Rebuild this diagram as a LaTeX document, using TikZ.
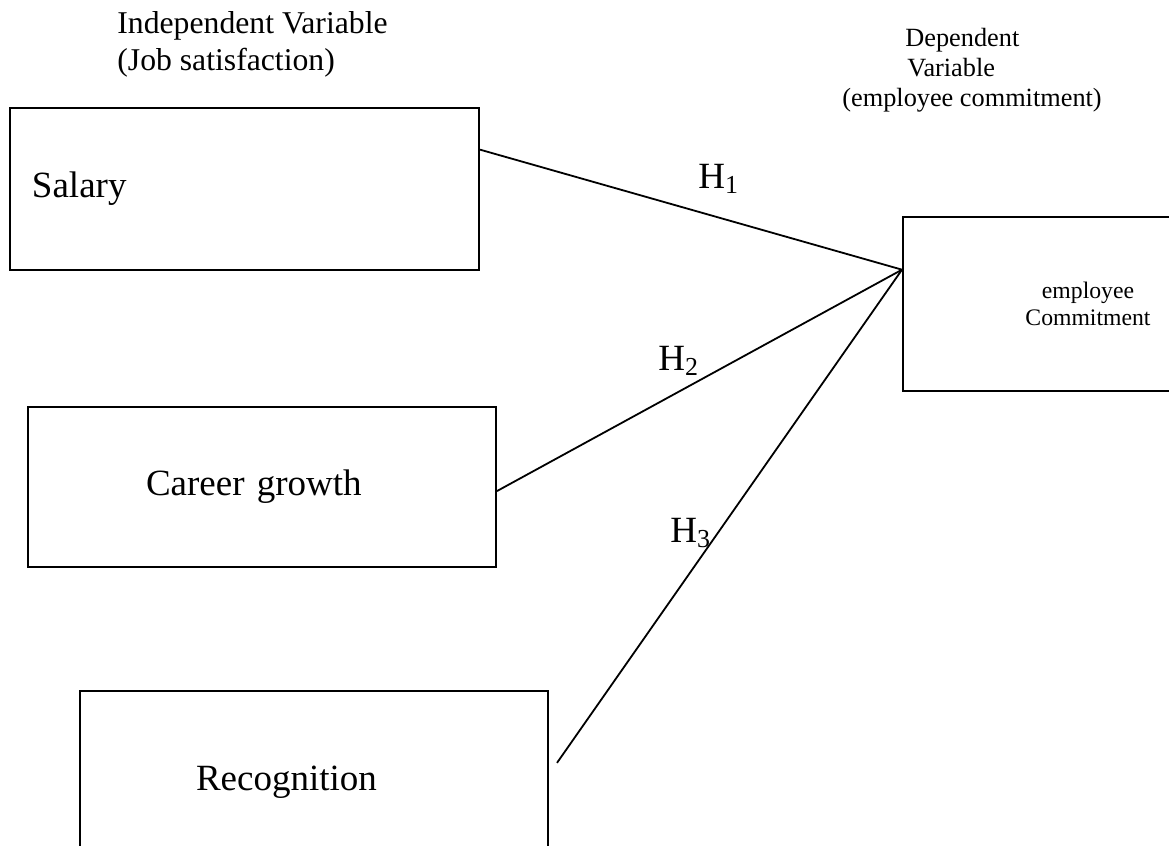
\documentclass[tikz,border=0pt]{standalone}
\usepackage{fontspec}
\setmainfont{Liberation Serif}
\usetikzlibrary{calc}
\tikzset{
  vbox/.style={draw, line width=1pt, inner ysep=0pt, align=left, font={\fontsize{18.5}{22}\selectfont}},
  link/.style={line width=0.9pt},
  hlabel/.style={anchor=base west, inner sep=0pt, font={\fontsize{18.5}{22}\selectfont}},
}
\begin{document}
\begin{tikzpicture}[x=0.5pt,y=-0.5pt]
\useasboundingbox (0,0) rectangle (1169,846);
\clip (0,0) rectangle (1169,846);
% boxes
\node[vbox, minimum width=234.5pt, minimum height=81pt, inner xsep=11pt, text width=212.5pt] (sal) at (244.5,189) {Salary};
\node[vbox, minimum width=234pt, minimum height=80pt, inner xsep=59pt, text width=116pt] (car) at (262,487) {Career growth};
\node[vbox, minimum width=234pt, minimum height=91pt, inner xsep=58pt, text width=118pt] (rec) at (314,782) {Recognition};
\node[draw, line width=1pt, minimum width=185pt, minimum height=87pt, align=center, font={\fontsize{11.85}{13.5}\selectfont}] (dep) at (1088,304) {employee\\Commitment};
% headings (anchor base = baseline of last line)
\node[anchor=base west, inner sep=0pt, align=left, font={\fontsize{15.85}{18.5}\selectfont}] (ivar) at (117,70) {Independent Variable\\(Job satisfaction)};
\node[anchor=base west, inner sep=0pt, align=left, font={\fontsize{13.15}{15}\selectfont}] (dvar) at (842,106) {\hspace*{31.5pt}Dependent\\\hspace*{32.5pt}Variable\\(employee commitment)};
% connectors
\coordinate (hub) at ($(dep.north west)!0.305!(dep.south west)$);
\draw[link] ($(sal.north east)!0.26!(sal.south east)$) -- (hub);
\draw[link] ($(car.north east)!0.525!(car.south east)$) -- (hub);
\coordinate (recend) at ($(rec.north east)!0.396!(rec.south east)+(8,0)$);
\draw[link] (recend) -- (hub);
% hypothesis labels
\node[hlabel] (h1) at (698,188) {H\textsubscript{1}};
\node[hlabel] (h2) at (658,370) {H\textsubscript{2}};
\node[hlabel] (h3) at (670,542) {H\textsubscript{3}};
\end{tikzpicture}
\end{document}
